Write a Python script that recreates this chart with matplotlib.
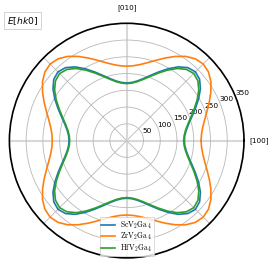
import numpy as np
import matplotlib
matplotlib.use("Agg")
import matplotlib.pyplot as plt

plt.rcParams['mathtext.fontset'] = 'cm'

# Young's modulus E[hk0], one quadrant (0..90 deg, step 5 deg)
angles_deg = [0, 5, 10, 15, 20, 25, 30, 35, 40, 45, 50, 55, 60, 65, 70, 75, 80, 85, 90]
e_scv2ga4 = [172.0, 174.1, 180.6, 191.5, 206.8, 226.0, 247.5, 268.5, 284.1, 290.0,
             284.1, 268.5, 247.5, 226.0, 206.8, 191.5, 180.6, 174.1, 172.0]
e_zrv2ga4 = [222.0, 224.1, 230.4, 240.8, 254.9, 271.9, 290.0, 306.7, 318.6, 323.0,
             318.6, 306.7, 290.0, 271.9, 254.9, 240.8, 230.4, 224.1, 222.0]
e_hfv2ga4 = [170.0, 172.1, 178.3, 188.9, 203.6, 222.0, 242.7, 262.6, 277.4, 283.0,
             277.4, 262.6, 242.7, 222.0, 203.6, 188.9, 178.3, 172.1, 170.0]
labels = [r'$\mathrm{ScV_2Ga_4}$', r'$\mathrm{ZrV_2Ga_4}$', r'$\mathrm{HfV_2Ga_4}$']
colors = ['#1f77b4', '#ff7f0e', '#2ca02c']
r_ticks = [50, 100, 150, 200, 250, 300, 350]


def full_circle(quarter):
    # the chart is four-fold symmetric: repeat the quadrant
    q = list(quarter)
    return q + q[1:] + q[1:] + q[1:]


theta = np.deg2rad(np.concatenate([np.array(angles_deg) + 90 * k if k == 0 else
                                   np.array(angles_deg[1:]) + 90 * k for k in range(4)]))

fig = plt.figure(figsize=(2.74, 2.68), dpi=100)
ax = fig.add_axes([0.0343, 0.0377, 0.8562, 0.8754], projection='polar')

for vals, lab, col in zip([e_scv2ga4, e_zrv2ga4, e_hfv2ga4], labels, colors):
    ax.plot(theta, full_circle(vals), color=col, lw=1.2, label=lab)

ax.set_ylim(0, 350)
ax.set_yticks(r_ticks)
ax.set_yticklabels([str(v) for v in r_ticks], fontsize=5.4)
ax.set_thetagrids(range(0, 360, 45), ['[100]', '', '[010]', '', '', '', '', ''], fontsize=5.2)
ax.tick_params(axis='x', pad=0.5)
ax.grid(True, color='#b8b8b8', lw=0.6)
for i, gl in enumerate(ax.xaxis.get_gridlines()):
    if i % 2 == 0:
        gl.set_color('#d8d8d8')
        gl.set_linewidth(1.5)
ax.spines['polar'].set_linewidth(1.2)

leg = ax.legend(loc='lower center', fontsize=5.5, fancybox=False, edgecolor='#cccccc',
                handlelength=1.8, labelspacing=0.02, handletextpad=0.6, borderaxespad=0.3,
                borderpad=0.25)
leg.get_frame().set_linewidth(0.6)

fig.text(0.082, 0.923, r'$E[hk0]$', fontsize=6.6, ha='center', va='center',
         math_fontfamily='dejavusans',
         bbox=dict(boxstyle='square,pad=0.3', facecolor='white', edgecolor='#cccccc', lw=0.6))

fig.savefig('out.png', dpi=100)
